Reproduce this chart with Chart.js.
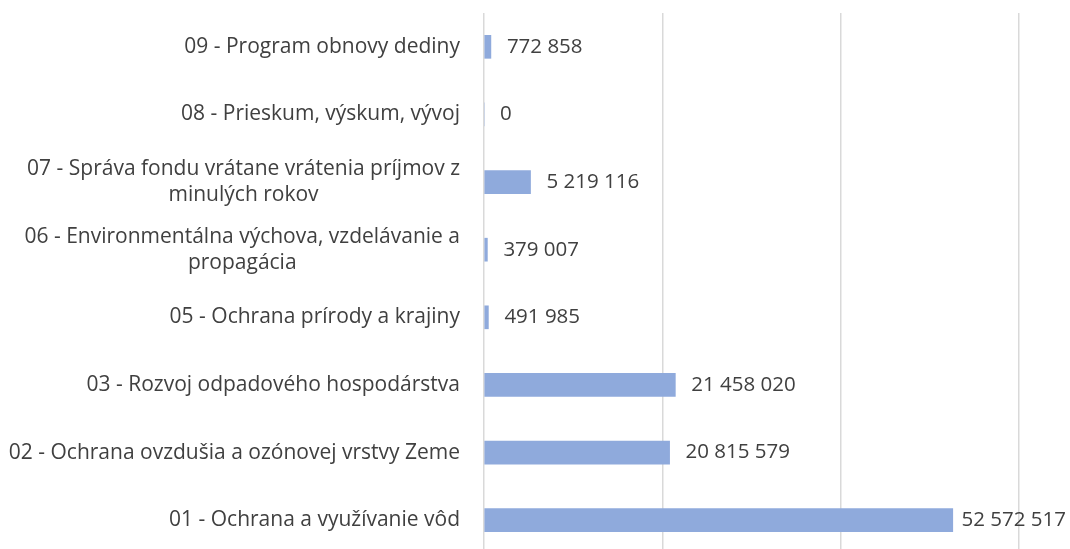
<!DOCTYPE html>
<html>
<head>
<meta charset="utf-8">
<script src="https://cdn.jsdelivr.net/npm/chart.js@4.4.1/dist/chart.umd.min.js"></script>
<style>
  html, body { margin: 0; padding: 0; background: #fff; overflow: hidden; }
  #wrap { position: relative; width: 1070px; height: 556px; }
</style>
</head>
<body>
<div id="wrap"><canvas id="chart"></canvas></div>
<script>
// categories, top to bottom as in the picture
const categories = [
    ['09 - Program obnovy dediny'],
    ['08 - Prieskum, výskum, vývoj'],
    ['07 - Správa fondu vrátane vrátenia príjmov z', 'minulých rokov'],
    ['06 - Environmentálna výchova, vzdelávanie a', 'propagácia'],
    ['05 - Ochrana prírody a krajiny'],
    ['03 - Rozvoj odpadového hospodárstva'],
    ['02 - Ochrana ovzdušia a ozónovej vrstvy Zeme'],
    ['01 - Ochrana a využívanie vôd']
];
const amounts = [772858, 0, 5219116, 379007, 491985, 21458020, 20815579, 52572517];
const xTicks = [0, 20000000, 40000000, 60000000];

const FONT = '"Open Sans", Lato, sans-serif';
const TEXT = '#404040';

function fmt(v) {
    return String(v).replace(/\B(?=(\d{3})+(?!\d))/g, ' ');
}

// category labels: block right-aligned, lines centred inside the block (like Excel)
const catLabels = {
    id: 'catLabels',
    afterDraw(chart) {
        var ctx = chart.ctx, y = chart.scales.y, area = chart.chartArea;
        ctx.save();
        ctx.font = '21px ' + FONT;
        ctx.fillStyle = TEXT;
        ctx.textBaseline = 'middle';
        ctx.textAlign = 'center';
        var lh = 26;
        categories.forEach(function(lines, i) {
            var cy = y.getPixelForValue(i);
            var w = Math.max.apply(null, lines.map(function(l) { return ctx.measureText(l).width; }));
            var right = area.left - 24;
            var cx = right - w / 2;
            var top = cy - (lines.length - 1) * lh / 2;
            lines.forEach(function(l, k) { ctx.fillText(l, cx, top + k * lh); });
        });
        ctx.restore();
    }
};

// value labels right of each bar
const valueLabels = {
    id: 'valueLabels',
    afterDatasetsDraw(chart) {
        var ctx = chart.ctx, meta = chart.getDatasetMeta(0);
        ctx.save();
        ctx.font = '20.5px ' + FONT;
        ctx.fillStyle = TEXT;
        ctx.textBaseline = 'middle';
        ctx.textAlign = 'left';
        meta.data.forEach(function(bar, i) {
            var t = fmt(amounts[i]);
            var w = ctx.measureText(t).width;
            var x = bar.x + 16;
            if (x + w > chart.width - 4) x = chart.width - 4 - w;
            ctx.fillText(t, x, bar.y);
        });
        ctx.restore();
    }
};

new Chart(document.getElementById('chart'), {
    type: 'bar',
    data: {
        labels: categories.map(function(c) { return c.join(' '); }),
        datasets: [{
            data: amounts,
            backgroundColor: '#8faadc',
            borderWidth: 0,
            barThickness: 23
        }]
    },
    options: {
        indexAxis: 'y',
        responsive: true,
        maintainAspectRatio: false,
        animation: false,
        layout: { padding: { left: 476, right: 51, top: 13, bottom: 2 } },
        plugins: { legend: { display: false }, tooltip: { enabled: false } },
        scales: {
            x: {
                min: 0,
                max: 60000000,
                afterBuildTicks: function(scale) {
                    scale.ticks = xTicks.map(function(v) { return { value: v }; });
                },
                ticks: { display: false },
                grid: { color: '#d9d9d9', lineWidth: 1.5, drawTicks: false },
                border: { display: false }
            },
            y: {
                ticks: { display: false },
                grid: { display: false },
                border: { display: false }
            }
        }
    },
    plugins: [catLabels, valueLabels]
});
</script>
</body>
</html>
